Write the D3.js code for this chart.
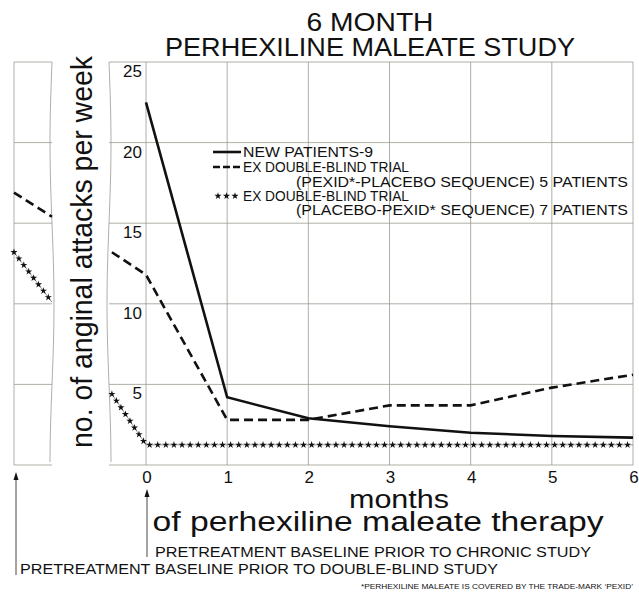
<!DOCTYPE html>
<html lang="en">
<head>
  <meta charset="UTF-8">
  <title>6 Month Perhexiline Maleate Study</title>
  <style>
    body { margin: 0; background: #fff; }
    text { font-family: "Liberation Sans", Arial, sans-serif; fill: #111; }
  </style>
</head>
<body>
  <svg id="svg" width="639" height="592"></svg>

  <script src="https://d3js.org/d3.v7.min.js"></script>
  <script>
    // values
    const monthTicks = [0, 1, 2, 3, 4, 5, 6]
    const yTicks = [5, 10, 15, 20, 25]

    const newPatientsX = [0, 1, 2, 3, 4, 5, 6]
    const newPatients = [22.5, 4.2, 2.9, 2.4, 2.0, 1.8, 1.7]

    // -0.42 = pretreatment baseline prior to chronic study
    const pexidFirstX = [-0.42, 0, 1, 2, 3, 4, 5, 6]
    const pexidFirst = [13.2, 11.8, 2.8, 2.8, 3.7, 3.7, 4.8, 5.6]

    const placeboFirstX = [-0.42, 0, 1, 2, 3, 4, 5, 6]
    const placeboFirst = [4.4, 1.25, 1.25, 1.25, 1.25, 1.25, 1.25, 1.25]

    // left panel: baseline prior to double-blind study
    const priorX = [0, 1]
    const pexidFirstPrior = [16.9, 15.4]
    const placeboFirstPrior = [13.2, 10.1]

    const svg = d3.select('#svg')

    const yScale = d3.scaleLinear().domain([0, 25]).range([465, 62])
    const xScale = d3.scaleLinear().domain([0, 6]).range([146, 633])
    const priorScale = d3.scaleLinear().domain([0, 1]).range([14, 52])

    const gridColor = '#9a9a90'

    // wavy break edges
    function wavy(x0, amp) {
      const pts = d3.range(62, 466, 4).map(y => [x0 + amp * Math.sin((y - 62) / 403 * Math.PI * 2.5), y])
      return d3.line()(pts)
    }

    // ---- left panel ----
    const left = svg.append('g')
    left.selectAll('line.h')
      .data([0].concat(yTicks))
      .enter()
      .append('line')
      .attr('x1', 14)
      .attr('x2', 52)
      .attr('y1', d => yScale(d))
      .attr('y2', d => yScale(d))
      .attr('stroke', gridColor)
      .attr('stroke-width', 0.8)
    left.append('line')
      .attr('x1', 14).attr('x2', 14)
      .attr('y1', 62).attr('y2', 465)
      .attr('stroke', gridColor).attr('stroke-width', 0.8)
    left.append('path')
      .attr('d', wavy(52, -2))
      .attr('fill', 'none').attr('stroke', gridColor).attr('stroke-width', 0.8)

    // ---- main panel grid ----
    const main = svg.append('g')
    main.selectAll('line.h')
      .data([0].concat(yTicks))
      .enter()
      .append('line')
      .attr('x1', 109)
      .attr('x2', xScale(6))
      .attr('y1', d => yScale(d))
      .attr('y2', d => yScale(d))
      .attr('stroke', gridColor)
      .attr('stroke-width', 0.8)
    main.selectAll('line.v')
      .data(monthTicks)
      .enter()
      .append('line')
      .attr('x1', d => xScale(d))
      .attr('x2', d => xScale(d))
      .attr('y1', 62)
      .attr('y2', 465)
      .attr('stroke', gridColor)
      .attr('stroke-width', 0.8)
    main.append('path')
      .attr('d', wavy(109, 2))
      .attr('fill', 'none').attr('stroke', gridColor).attr('stroke-width', 0.8)

    // y tick labels
    main.selectAll('text.ytick')
      .data(yTicks)
      .enter()
      .append('text')
      .attr('x', 142)
      .attr('y', d => yScale(d) + 15)
      .attr('text-anchor', 'end')
      .attr('font-size', 17)
      .text(d => d)

    // x tick labels
    main.selectAll('text.xtick')
      .data(monthTicks)
      .enter()
      .append('text')
      .attr('x', d => xScale(d) + 1)
      .attr('y', 483)
      .attr('text-anchor', 'middle')
      .attr('font-size', 17)
      .text(d => d)

    // ---- series ----
    const zip = (xs, ys) => xs.map((x, i) => [x, ys[i]])
    const mainLine = d3.line().x(d => xScale(d[0])).y(d => yScale(d[1]))
    const priorLine = d3.line().x(d => priorScale(d[0])).y(d => yScale(d[1]))

    svg.append('path')
      .attr('d', mainLine(zip(newPatientsX, newPatients)))
      .attr('fill', 'none').attr('stroke', '#111').attr('stroke-width', 2.6)

    svg.append('path')
      .attr('d', mainLine(zip(pexidFirstX, pexidFirst)))
      .attr('fill', 'none').attr('stroke', '#111').attr('stroke-width', 2.6)
      .attr('stroke-dasharray', '9,5')

    svg.append('path')
      .attr('d', priorLine(zip(priorX, pexidFirstPrior)))
      .attr('fill', 'none').attr('stroke', '#111').attr('stroke-width', 2.6)
      .attr('stroke-dasharray', '9,5')

    const star = d3.symbol(d3.symbolStar, 16)
    function starLine(d) {
      const p = svg.append('path')
        .attr('d', d)
        .attr('fill', 'none').attr('stroke', '#555').attr('stroke-width', 0.6)
      const node = p.node()
      const len = node.getTotalLength()
      const pts = d3.range(0, len + 0.1, 8.1).map(l => node.getPointAtLength(l))
      svg.append('g').selectAll('path')
        .data(pts)
        .enter()
        .append('path')
        .attr('d', star)
        .attr('transform', q => `translate(${q.x},${q.y})`)
        .attr('fill', '#111')
    }
    starLine(mainLine(zip(placeboFirstX, placeboFirst)))
    starLine(priorLine(zip(priorX, placeboFirstPrior)))

    // ---- legend ----
    const legend = svg.append('g')
    legend.append('line')
      .attr('x1', 213).attr('x2', 241).attr('y1', 152).attr('y2', 152)
      .attr('stroke', '#111').attr('stroke-width', 2.6)
    legend.append('line')
      .attr('x1', 213).attr('x2', 241).attr('y1', 167).attr('y2', 167)
      .attr('stroke', '#111').attr('stroke-width', 2.6)
      .attr('stroke-dasharray', '7,3')
    legend.selectAll('path.star')
      .data([218, 226.5, 235])
      .enter()
      .append('path')
      .attr('d', star)
      .attr('transform', d => `translate(${d},196)`)
      .attr('fill', '#111')

    const legendRows = [
      { x: 243, y: 157, t: 'NEW PATIENTS-9', w: 130 },
      { x: 243, y: 172, t: 'EX DOUBLE-BLIND TRIAL', w: 166 },
      { x: 296, y: 187, t: '(PEXID*-PLACEBO SEQUENCE) 5 PATIENTS', w: 332 },
      { x: 243, y: 201, t: 'EX DOUBLE-BLIND TRIAL', w: 166 },
      { x: 296, y: 215, t: '(PLACEBO-PEXID* SEQUENCE) 7 PATIENTS', w: 332 }
    ]
    legend.selectAll('text')
      .data(legendRows)
      .enter()
      .append('text')
      .attr('x', d => d.x)
      .attr('y', d => d.y)
      .attr('font-size', 14)
      .attr('textLength', d => d.w)
      .attr('lengthAdjust', 'spacingAndGlyphs')
      .text(d => d.t)

    // ---- titles ----
    svg.append('text')
      .attr('x', 370).attr('y', 31)
      .attr('text-anchor', 'middle')
      .attr('font-size', 25)
      .attr('textLength', 127)
      .attr('lengthAdjust', 'spacingAndGlyphs')
      .text('6 MONTH')
    svg.append('text')
      .attr('x', 370).attr('y', 56)
      .attr('text-anchor', 'middle')
      .attr('font-size', 25)
      .attr('textLength', 410)
      .attr('lengthAdjust', 'spacingAndGlyphs')
      .text('PERHEXILINE MALEATE STUDY')

    svg.append('text')
      .attr('transform', 'translate(92,252) rotate(-90)')
      .attr('text-anchor', 'middle')
      .attr('font-size', 30)
      .attr('textLength', 392)
      .attr('lengthAdjust', 'spacingAndGlyphs')
      .text('no. of anginal attacks per week')

    svg.append('text')
      .attr('x', 399).attr('y', 508)
      .attr('text-anchor', 'middle')
      .attr('font-size', 26)
      .attr('textLength', 100)
      .attr('lengthAdjust', 'spacingAndGlyphs')
      .text('months')
    svg.append('text')
      .attr('x', 378).attr('y', 531)
      .attr('text-anchor', 'middle')
      .attr('font-size', 27)
      .attr('textLength', 451)
      .attr('lengthAdjust', 'spacingAndGlyphs')
      .text('of perhexiline maleate therapy')

    // ---- baseline arrows and notes ----
    const arrows = [
      { x: xScale(0) + 1, top: 489, bottom: 557 },
      { x: 16, top: 472, bottom: 575 }
    ]
    arrows.forEach(a => {
      svg.append('line')
        .attr('x1', a.x).attr('x2', a.x).attr('y1', a.top + 4).attr('y2', a.bottom)
        .attr('stroke', '#333').attr('stroke-width', 0.9)
      svg.append('path')
        .attr('d', `M${a.x},${a.top} L${a.x - 2.5},${a.top + 8} L${a.x + 2.5},${a.top + 8} Z`)
        .attr('fill', '#111')
    })

    svg.append('text')
      .attr('x', 155).attr('y', 557)
      .attr('font-size', 14)
      .attr('textLength', 436)
      .attr('lengthAdjust', 'spacingAndGlyphs')
      .text('PRETREATMENT BASELINE PRIOR TO CHRONIC STUDY')
    svg.append('text')
      .attr('x', 20).attr('y', 574)
      .attr('font-size', 14)
      .attr('textLength', 478)
      .attr('lengthAdjust', 'spacingAndGlyphs')
      .text('PRETREATMENT BASELINE PRIOR TO DOUBLE-BLIND STUDY')

    svg.append('text')
      .attr('x', 633).attr('y', 589)
      .attr('text-anchor', 'end')
      .attr('font-size', 8)
      .attr('textLength', 272)
      .attr('lengthAdjust', 'spacingAndGlyphs')
      .text('*PERHEXILINE MALEATE IS COVERED BY THE TRADE-MARK \u2018PEXID\u2019')
  </script>
</body>
</html>
